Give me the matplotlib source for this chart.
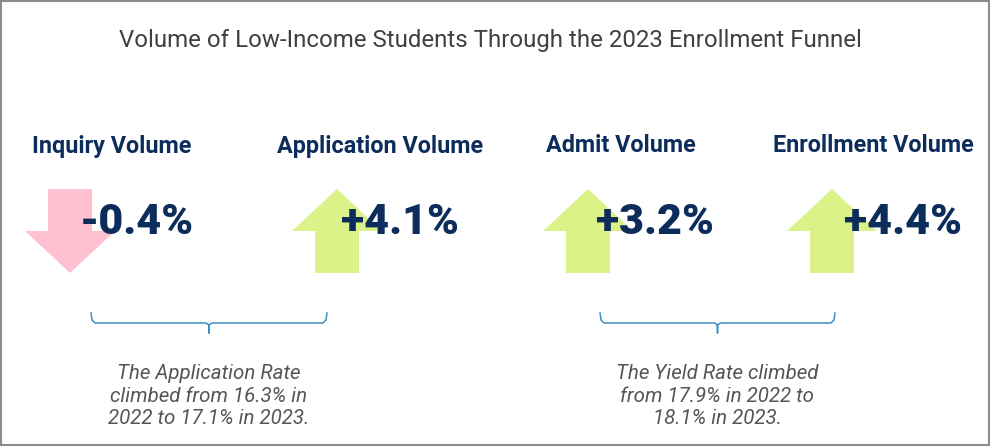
import matplotlib
matplotlib.use("Agg")
import matplotlib.pyplot as plt
from matplotlib.patches import Polygon, Rectangle

# Chart data
metrics = ["Inquiry Volume", "Application Volume", "Admit Volume", "Enrollment Volume"]
changes = [-0.4, 4.1, 3.2, 4.4]
notes = [
    "The Application Rate\nclimbed from 16.3% in\n2022 to 17.1% in 2023.",
    "The Yield Rate climbed\nfrom 17.9% in 2022 to\n18.1% in 2023.",
]
title = "Volume of Low-Income Students Through the 2023 Enrollment Funnel"

# Layout (pixel coordinates)
W, H = 990, 446
arrow_x = [70, 337, 588, 832]
header_x = [112, 380, 621, 873]
pct_x = [137, 400, 655, 903]
bracket_x = [(91, 327), (600, 835)]

NAVY = "#0c2d5b"
PINK = "#ffc1d2"
GREEN = "#daf288"
GREY_TXT = "#404040"
NOTE_TXT = "#555555"
BRACKET = "#3a8fc4"

fig = plt.figure(figsize=(W / 100, H / 100), dpi=100)
ax = fig.add_axes([0, 0, 1, 1])
ax.set_xlim(0, W)
ax.set_ylim(H, 0)
ax.axis("off")

ax.add_patch(Rectangle((0.75, 0.75), W - 1.5, H - 1.5, fill=False,
                       edgecolor="#8c8c8c", linewidth=1.5))

ax.text(490, 40, title, ha="center", va="center", fontsize=17.3,
        color=GREY_TXT, family="Roboto", fontweight="normal")


def arrow(cx, up, color):
    top, mid, bot = 189, 231, 273
    hw, sw = 45, 22
    if up:
        pts = [(cx, top), (cx + hw, mid), (cx + sw, mid), (cx + sw, bot),
               (cx - sw, bot), (cx - sw, mid), (cx - hw, mid)]
    else:
        pts = [(cx - sw, top), (cx + sw, top), (cx + sw, mid), (cx + hw, mid),
               (cx, bot), (cx - hw, mid), (cx - sw, mid)]
    ax.add_patch(Polygon(pts, closed=True, facecolor=color, edgecolor="none", zorder=1))


for i, (name, val) in enumerate(zip(metrics, changes)):
    ax.text(header_x[i], 146, name, ha="center", va="center", fontsize=16.8,
            color=NAVY, family="Roboto", fontweight="bold")
    arrow(arrow_x[i], val >= 0, GREEN if val >= 0 else PINK)
    ax.text(pct_x[i], 223, f"{val:+.1f}%", ha="center", va="center",
            fontsize=31, color=NAVY, family="Roboto", fontweight="heavy", zorder=3)

for (x0, x1), note in zip(bracket_x, notes):
    xc = (x0 + x1) / 2
    ax.plot([x0, x0 + 1, x0 + 4, xc - 3, xc, xc, xc, xc + 3, x1 - 4, x1 - 1, x1],
            [313, 320, 323, 323, 325, 333, 325, 323, 323, 320, 313],
            color=BRACKET, linewidth=1.1, solid_joinstyle="round")
    ax.text(xc, 396, note, ha="center", va="center", fontsize=14.8,
            color=NOTE_TXT, family="Roboto", fontstyle="italic",
            fontweight="normal", linespacing=1.22)

fig.savefig("out.png", dpi=100)
